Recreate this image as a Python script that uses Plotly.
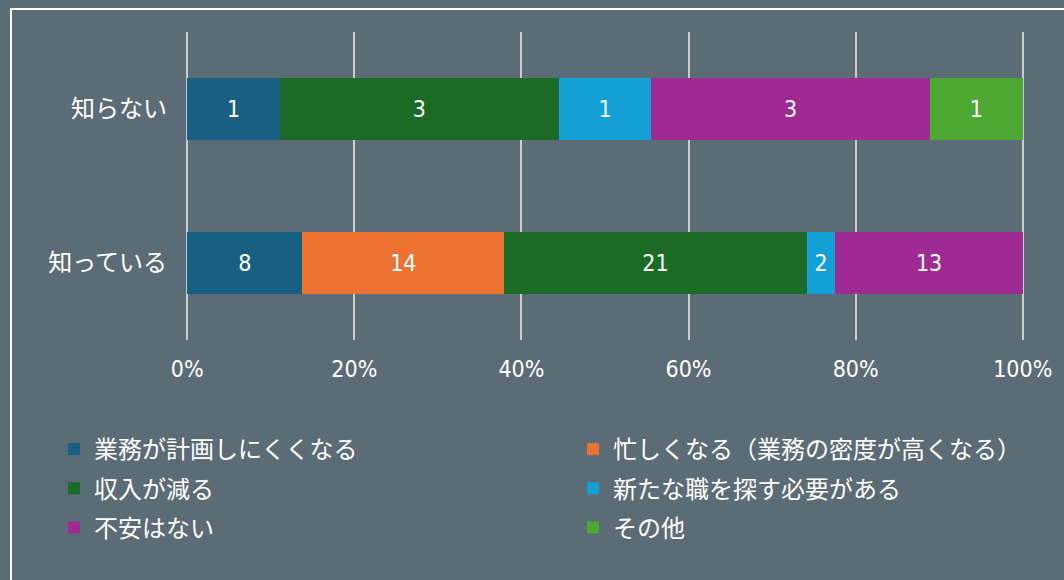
import plotly.graph_objects as go

categories = ["知っている", "知らない"]
series_names = [
    "業務が計画しにくくなる",
    "忙しくなる（業務の密度が高くなる）",
    "収入が減る",
    "新たな職を探す必要がある",
    "不安はない",
    "その他",
]
# values per series: [知っている, 知らない]
values = [
    [8, 1],
    [14, 0],
    [21, 3],
    [2, 1],
    [13, 3],
    [0, 1],
]
colors = ["#185f84", "#ec7232", "#1b6a26", "#12a0d6", "#9f2b92", "#4ea932"]
tick_vals = [0, 20, 40, 60, 80, 100]
tick_text = ["0%", "20%", "40%", "60%", "80%", "100%"]
legend_of = ["legend", "legend2", "legend", "legend2", "legend", "legend2"]

W, H = 1064, 580
PAD = 0.15  # small range padding so the 0% and 100% grid lines are drawn
ML, MR, MT, MB = 186, 40, 32, 240
PW, PH = W - ML - MR, H - MT - MB

NUM_FONT = "DejaVu Sans Condensed, Liberation Sans Narrow, sans-serif"
JP_FONT = "Noto Sans CJK JP, Noto Sans, sans-serif"

fig = go.Figure()
for i, name in enumerate(series_names):
    fig.add_trace(go.Bar(
        y=categories,
        x=values[i],
        name=name,
        orientation="h",
        marker=dict(color=colors[i], line=dict(width=0)),
        text=[str(v) if v else "" for v in values[i]],
        textposition="inside",
        insidetextanchor="middle",
        textangle=0,
        textfont=dict(family=NUM_FONT, size=23, color="white"),
        legend=legend_of[i],
        legendgroup="g%d" % i,
        hoverinfo="skip",
    ))

def px_x(px):
    return (px - ML) / PW

def px_y(py):
    return (H - MB - py) / PH

fig.update_layout(
    width=W, height=H,
    margin=dict(l=ML, r=MR, t=MT, b=MB),
    paper_bgcolor="#5b6c77",
    plot_bgcolor="#5b6c77",
    barmode="stack",
    barnorm="percent",
    bargap=0.6,
    xaxis=dict(
        range=[-PAD, 100 + PAD],
        tickvals=tick_vals,
        ticktext=tick_text,
        showgrid=True,
        gridcolor="#c9ccce",
        gridwidth=2,
        zeroline=False,
        showline=False,
        ticks="",
        tickfont=dict(family=NUM_FONT, size=23, color="white"),
        ticklabelstandoff=13,
        fixedrange=True,
    ),
    yaxis=dict(
        showgrid=False,
        zeroline=False,
        showline=False,
        ticks="",
        tickfont=dict(family=JP_FONT, size=24, color="white"),
        ticklabelstandoff=18,
        fixedrange=True,
    ),
    legend=dict(
        x=px_x(54), y=px_y(427), xanchor="left", yanchor="top",
        orientation="v", tracegroupgap=5,
        font=dict(family=JP_FONT, size=24, color="white"),
        bgcolor="rgba(0,0,0,0)",
    ),
    legend2=dict(
        x=px_x(573), y=px_y(427), xanchor="left", yanchor="top",
        orientation="v", tracegroupgap=5,
        font=dict(family=JP_FONT, size=24, color="white"),
        bgcolor="rgba(0,0,0,0)",
    ),
    shapes=[dict(
        type="rect", xref="paper", yref="paper",
        x0=px_x(11), x1=px_x(1100), y0=px_y(620), y1=px_y(9),
        line=dict(color="white", width=2), fillcolor="rgba(0,0,0,0)",
        layer="below",
    )],
    showlegend=True,
)

fig.write_html("out.html")
